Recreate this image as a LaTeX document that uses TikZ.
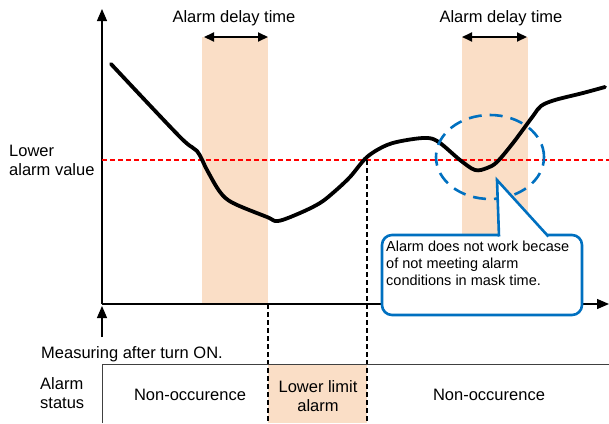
\documentclass[tikz,border=0pt]{standalone}
\usepackage{fontspec}
\setmainfont{Liberation Sans}
\usetikzlibrary{arrows.meta,positioning,calc}
\definecolor{bandfill}{RGB}{250,222,198}
\definecolor{calloutblue}{RGB}{0,112,192}

\begin{document}
\begin{tikzpicture}[
		x=1pt, y=-1pt,
		>={Triangle[width=10pt,length=12pt]},
		band/.style={fill=bandfill, draw=none},
		axis/.style={->, line width=1.3pt},
		span/.style={<->, line width=2pt, >={Triangle[width=9pt,length=10pt]}},
		limit/.style={red, line width=1.2pt, dash pattern=on 5pt off 3pt},
		guide/.style={black, line width=1.2pt, dash pattern=on 5pt off 3pt},
		lbl/.style={font=\fontsize{16.5}{19}\selectfont, inner sep=0pt, align=center},
		note/.style={font=\fontsize{14.5}{17}\selectfont, inner sep=0pt, align=left},
		mask/.style={calloutblue, line width=2.6pt, dash pattern=on 13pt off 8pt},
		callout/.style={draw=calloutblue, fill=white, line width=2.6pt, rounded corners=10pt,
			minimum width=200pt, minimum height=80pt, inner sep=0pt}
		]
		\useasboundingbox (0,0) rectangle (609,423);
		
		% -------------------------
		% Delay bands
		% -------------------------
		\fill[band] (202,37) rectangle (268,304);
		\fill[band] (462,37) rectangle (528,304);
		\fill[band] (268,364) rectangle (367,423);
		
		% -------------------------
		% Axes
		% -------------------------
		\coordinate (O) at (102,304);
		\coordinate (ytop) at (102,9);
		\coordinate (xend) at (609,304);
		\coordinate (on) at (102,337);
		\coordinate (ontip) at (102,306);
		\draw[axis] (O) -- (ytop);
		\draw[axis] (O) -- (xend);
		\draw[axis] (on) -- (ontip);
		
		% lower alarm value
		\coordinate (lvA) at (102,160);
		\coordinate (lvB) at (609,160);
		\draw[limit] (lvA) -- (lvB);
		
		% measured value
		\draw[line width=3.8pt, line cap=round, line join=round]
		plot[smooth, tension=0.55] coordinates {
			(111,64) (180,137) (197,151) (207,170) (220,192) (233,203)
			(267,217) (278,221) (300,213) (320,203) (334,192) (350,177)
			(367,157) (387,145) (407,140) (428,138) (440,143) (460,160)
			(475,170) (487,168) (497,162) (513,143) (533,116) (541,106)
			(555,100) (583,93) (605,87)};
		
		% -------------------------
		% Delay arrows and labels
		% -------------------------
		\coordinate (d1a) at (204,37);
		\coordinate (d1b) at (268,37);
		\coordinate (d2a) at (462,37);
		\coordinate (d2b) at (527,37);
		\draw[span] (d1a) -- (d1b);
		\draw[span] (d2a) -- (d2b);
		\node[lbl] (delay1) at (234,18) {Alarm delay time};
		\node[lbl] (delay2) at (501,18) {Alarm delay time};
		
		\node[lbl, align=left, anchor=west] (lowerlbl) at (9,160) {Lower\\alarm value};
		
		% -------------------------
		% Status row
		% -------------------------
		\coordinate (s1) at (268,304);
		\coordinate (s1b) at (268,423);
		\coordinate (s2) at (367,160);
		\coordinate (s2b) at (367,423);
		\draw[guide] (s1) -- (s1b);
		\draw[guide] (s2) -- (s2b);
		\draw[black!75, line width=1pt] (102,423) -- (102,364) -- (609,364);
		
		\node[lbl, anchor=west] (measlbl) at (41,354) {Measuring after turn ON.};
		\node[lbl, align=left, anchor=west] (statuslbl) at (40,393) {Alarm\\status};
		\node[lbl] (nonocc1) at (190,395) {Non-occurence};
		\node[lbl] (lowlimit) at (318,396) {Lower limit\\alarm};
		\node[lbl] (nonocc2) at (489,395) {Non-occurence};
		
		% -------------------------
		% Mask time note
		% -------------------------
		\draw[mask] (490,157) ellipse [x radius=54pt, y radius=42pt];
		\node[callout] (callbox) at (482,275) {};
		\coordinate (tip) at (497,180);
		\fill[white] (499,237) -- (tip) -- (548.6,237) -- cycle;
		\draw[calloutblue, line width=2.6pt, line join=miter] (499,236.5) -- (tip) -- (548.4,236.5);
		\node[note, anchor=north west] (calltxt) at (386,241)
		{Alarm does not work becase\\of not meeting alarm\\conditions in mask time.};
		
	\end{tikzpicture}
\end{document}
